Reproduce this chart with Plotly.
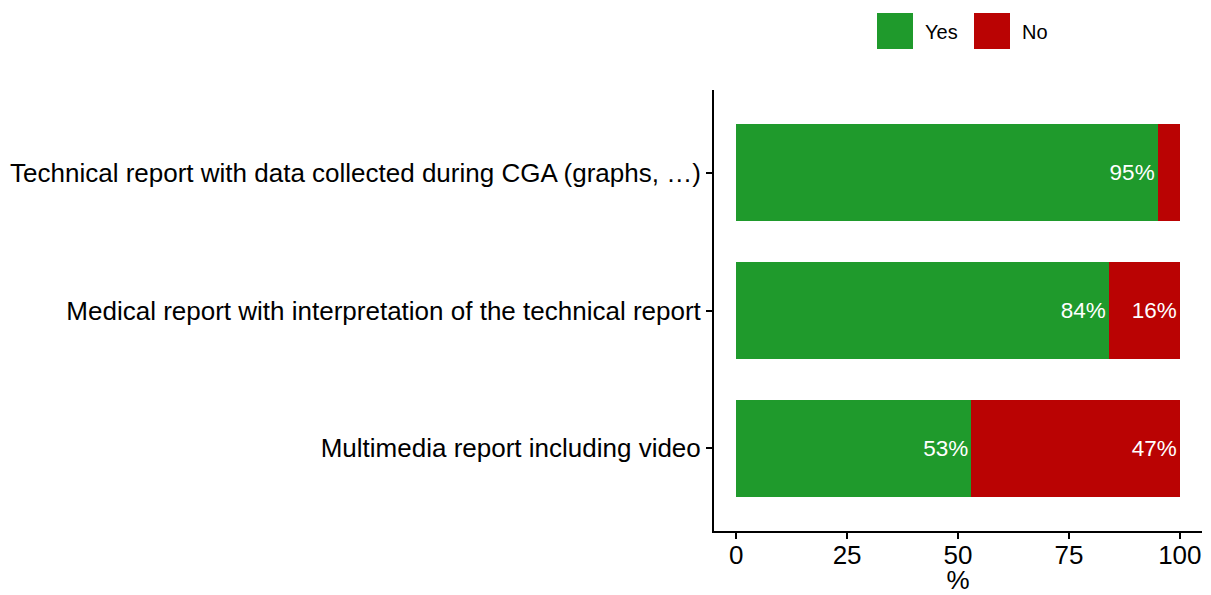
import plotly.graph_objects as go

categories = [
    "Technical report with data collected during CGA (graphs, …)",
    "Medical report with interpretation of the technical report",
    "Multimedia report including video",
]
yes_values = [95, 84, 53]
no_values = [5, 16, 47]
series_names = ["Yes", "No"]
series_colors = ["#1F9A2C", "#BA0303"]
x_ticks = [0, 25, 50, 75, 100]


def labels(vals, minimum=10):
    return [f"{v}%" if v >= minimum else "" for v in vals]


FONT = "Liberation Sans, Arial, sans-serif"

fig = go.Figure()
for name, vals, col in zip(series_names, [yes_values, no_values], series_colors):
    fig.add_trace(go.Bar(
        y=categories, x=vals, name=name, orientation="h",
        marker=dict(color=col, line=dict(width=0)),
        width=0.7,
        text=labels(vals), textposition="inside", insidetextanchor="end",
        textfont=dict(color="white", size=22.5, family=FONT),
        constraintext="none", cliponaxis=False,
        showlegend=False, hoverinfo="x+y+name",
    ))

# page has an 8px body margin; plot area spans page x 714..1202, y 90..531
W, H = 1203, 587
L, T = 706, 82
PW, PH = 488, 441

fig.update_layout(
    barmode="stack",
    width=W, height=H,
    margin=dict(l=L, r=W - L - PW, t=T, b=H - T - PH, autoexpand=False),
    plot_bgcolor="white", paper_bgcolor="white",
    font=dict(family=FONT, color="black"),
    uniformtext=dict(minsize=22, mode="show"),
)
fig.update_xaxes(
    range=[-5, 105], tickvals=x_ticks, ticktext=[str(t) for t in x_ticks],
    showgrid=False, zeroline=False,
    showline=True, linecolor="black", linewidth=2,
    ticks="outside", tickcolor="black", ticklen=6, tickwidth=1.5,
    ticklabelstandoff=-6,
    tickfont=dict(size=26, color="black", family=FONT),
    title=dict(text="%", font=dict(size=26, color="black", family=FONT), standoff=4),
)
fig.update_yaxes(
    categoryorder="array", categoryarray=categories,
    range=[2.6, -0.6],
    showgrid=False, zeroline=False,
    showline=True, linecolor="black", linewidth=2,
    ticks="outside", tickcolor="black", ticklen=6, tickwidth=1.5,
    tickfont=dict(size=26, color="black", family=FONT),
)

# legend at top (keys as paper-positioned squares), page coords converted to paper
key_x = [877, 974]
for name, col, kx in zip(series_names, series_colors, key_x):
    fig.add_shape(type="rect", xref="paper", yref="paper",
                  x0=(kx - 714) / PW, x1=(kx + 36 - 714) / PW,
                  y0=(531 - 49) / PH, y1=(531 - 13) / PH,
                  fillcolor=col, line=dict(width=0))
    fig.add_annotation(xref="paper", yref="paper",
                       x=(kx + 49 - 714) / PW, y=(531 - 32) / PH,
                       text=name, showarrow=False, xanchor="left", yanchor="middle",
                       xshift=-3,
                       font=dict(size=20, color="black", family=FONT))

fig.write_html("out.html")
